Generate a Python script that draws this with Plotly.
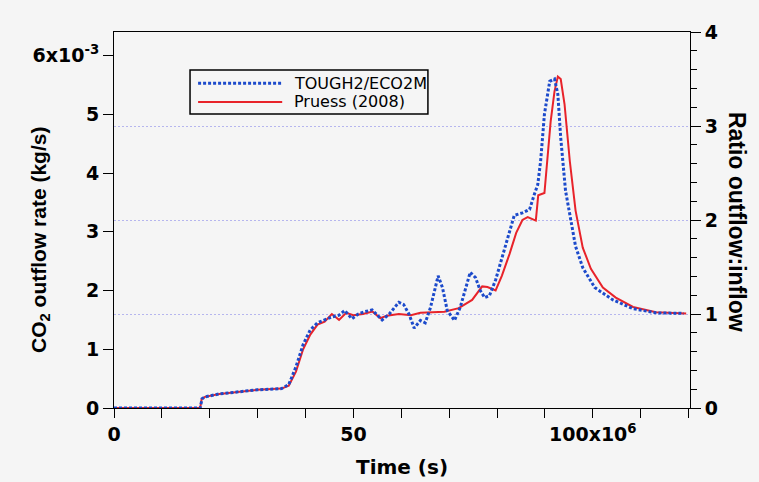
import plotly.graph_objects as go

# Time in units of 1e6 s, rate in units of 1e-3 kg/s
pruess_t = [0, 18.0, 18.3, 19, 22, 26, 30, 35, 36.5, 38, 39.5, 41, 42.5, 44, 45.5, 47, 48.5, 50,
            52, 54, 55.6, 57, 59.5, 62, 64, 66.5, 69, 72, 74.8, 76.9, 78, 79.7, 81, 82.6, 84,
            85.3, 86.4, 88.1, 88.6, 89.9, 90.6, 91.2, 92.0, 92.7, 93.3, 94.1, 95.2, 96.4, 97.9,
            99.6, 102.1, 104.8, 108.4, 113.2, 119.5]
pruess_q = [0, 0, 0.15, 0.19, 0.24, 0.28, 0.31, 0.33, 0.38, 0.62, 1.0, 1.25, 1.42, 1.47, 1.6, 1.5,
            1.62, 1.58, 1.6, 1.64, 1.53, 1.57, 1.6, 1.58, 1.62, 1.63, 1.64, 1.7, 1.84, 2.07, 2.06,
            2.0, 2.25, 2.62, 2.98, 3.2, 3.25, 3.19, 3.62, 3.66, 4.25, 4.88, 5.39, 5.64, 5.6, 5.17,
            4.2, 3.36, 2.73, 2.37, 2.05, 1.88, 1.72, 1.63, 1.61]

tough_t = [0, 18.0, 18.4, 19, 22, 26, 30, 35, 36.5, 38, 39.5, 41, 42.5, 44, 45.5, 47, 48.2, 49.7,
           51, 52.4, 53.9, 55, 56, 57.5, 59.5, 60.5, 61.6, 62.7, 64, 65, 66.1, 67.7, 68.6, 69.6,
           71.1, 72.3, 74.4, 75.5, 76.5, 77.4, 78.4, 79.7, 81.8, 83.6, 85.3, 86.8, 87.8, 88.5,
           89.1, 89.9, 91.0, 92.0, 92.7, 93.3, 94.3, 95.2, 96.4, 97.9, 100.4, 104.2, 108.4,
           113.2, 119]
tough_q = [0, 0, 0.16, 0.19, 0.24, 0.28, 0.31, 0.33, 0.4, 0.7, 1.08, 1.33, 1.45, 1.5, 1.55, 1.58,
           1.66, 1.52, 1.6, 1.64, 1.67, 1.58, 1.5, 1.6, 1.8, 1.76, 1.6, 1.36, 1.49, 1.45, 1.71,
           2.25, 2.05, 1.66, 1.49, 1.71, 2.31, 2.22, 2.0, 1.88, 1.91, 2.18, 2.75, 3.28, 3.32,
           3.38, 3.64, 3.8, 4.2, 5.0, 5.56, 5.6, 5.34, 4.6, 3.7, 3.3, 2.75, 2.39, 2.05, 1.84,
           1.69, 1.62, 1.61]

x_tickvals = [0, 10, 20, 30, 40, 50, 60, 70, 80, 90, 100, 110, 120]
x_ticktext = ["0", "", "", "", "", "50", "", "", "", "", "100x10<sup>6</sup>", "", ""]
y_tickvals = [0, 1, 2, 3, 4, 5, 6]
y_ticktext = ["0", "1", "2", "3", "4", "5", "6x10<sup>-3</sup>"]
y2_tickvals = [0, 1, 2, 3, 4]
y2_ticktext = ["0", "1", "2", "3", "4"]

BG = "#f5f5f5"
BLUE = "#1c4acb"
RED = "#e8232a"
HFONT = "DejaVu Sans"
VFONT = "Liberation Sans"

fig = go.Figure()
fig.add_trace(go.Scatter(x=[t * 1e6 for t in pruess_t], y=[q * 1e-3 for q in pruess_q],
                         mode="lines", line=dict(color=RED, width=2), showlegend=False))
fig.add_trace(go.Scatter(x=[t * 1e6 for t in tough_t], y=[q * 1e-3 for q in tough_q],
                         mode="lines", line=dict(color=BLUE, width=3, dash="3px,2px"),
                         showlegend=False))
# dummy trace to activate the right axis
fig.add_trace(go.Scatter(x=[None], y=[None], yaxis="y2", showlegend=False))

tickfont = dict(family=HFONT, size=19, color="black", weight="bold")

fig.update_layout(
    width=759, height=482,
    margin=dict(l=114, r=69, t=32, b=74),
    paper_bgcolor=BG, plot_bgcolor=BG,
    xaxis=dict(range=[0, 120.3e6], tickmode="array",
               tickvals=[v * 1e6 for v in x_tickvals], ticktext=x_ticktext,
               ticks="outside", ticklen=9, tickwidth=1, tickcolor="black",
               showline=True, linecolor="black", linewidth=1, mirror=True,
               showgrid=False, zeroline=False, tickfont=tickfont),
    yaxis=dict(range=[0, 6.4e-3], tickmode="array",
               tickvals=[v * 1e-3 for v in y_tickvals], ticktext=y_ticktext,
               ticks="outside", ticklen=10, tickwidth=1, tickcolor="black",
               showline=True, linecolor="black", linewidth=1,
               showgrid=False, zeroline=False, tickfont=tickfont),
    yaxis2=dict(range=[0, 4], overlaying="y", side="right", tickmode="array",
                tickvals=y2_tickvals, ticktext=y2_ticktext,
                ticks="outside", ticklen=10, tickwidth=1, tickcolor="black",
                minor=dict(dtick=0.2, ticks="outside", ticklen=6, tickcolor="black", showgrid=False),
                showline=True, linecolor="black", linewidth=1,
                showgrid=True, gridcolor="#b6b6ee", griddash="2px,2px", gridwidth=1,
                zeroline=False, tickfont=tickfont),
    annotations=[
        dict(text="CO<sub>2</sub> outflow rate (kg/s)", xref="paper", yref="paper",
             x=0, y=0.447, xshift=-74, textangle=-90, showarrow=False,
             xanchor="center", yanchor="middle",
             font=dict(family=VFONT, size=21, color="black", weight="bold")),
        dict(text="Ratio outflow:inflow", xref="paper", yref="paper",
             x=1, y=0.495, xshift=47, textangle=90, showarrow=False,
             xanchor="center", yanchor="middle",
             font=dict(family=VFONT, size=23, color="black", weight="bold")),
        dict(text="Time (s)", xref="paper", yref="paper",
             x=0.5, y=-0.157, showarrow=False, xanchor="center", yanchor="middle",
             font=dict(family=HFONT, size=20, color="black", weight="bold")),
        dict(text="TOUGH2/ECO2M", xref="paper", yref="paper", x=0.309, y=0.864,
             showarrow=False, xanchor="left", yanchor="middle",
             font=dict(family=HFONT, size=16, color="black")),
        dict(text="Pruess (2008)", xref="paper", yref="paper", x=0.309, y=0.814,
             showarrow=False, xanchor="left", yanchor="middle",
             font=dict(family=HFONT, size=16, color="black")),
    ],
    shapes=[
        dict(type="rect", xref="paper", yref="paper", x0=0.132, x1=0.545, y0=0.782, y1=0.899,
             line=dict(color="black", width=1.5), fillcolor=BG, layer="above"),
        dict(type="line", xref="paper", yref="paper", x0=0.146, x1=0.292, y0=0.864, y1=0.864,
             line=dict(color=BLUE, width=3, dash="3px,2px"), layer="above"),
        dict(type="line", xref="paper", yref="paper", x0=0.146, x1=0.292, y0=0.814, y1=0.814,
             line=dict(color=RED, width=2), layer="above"),
    ],
)

fig.write_html("out.html")
